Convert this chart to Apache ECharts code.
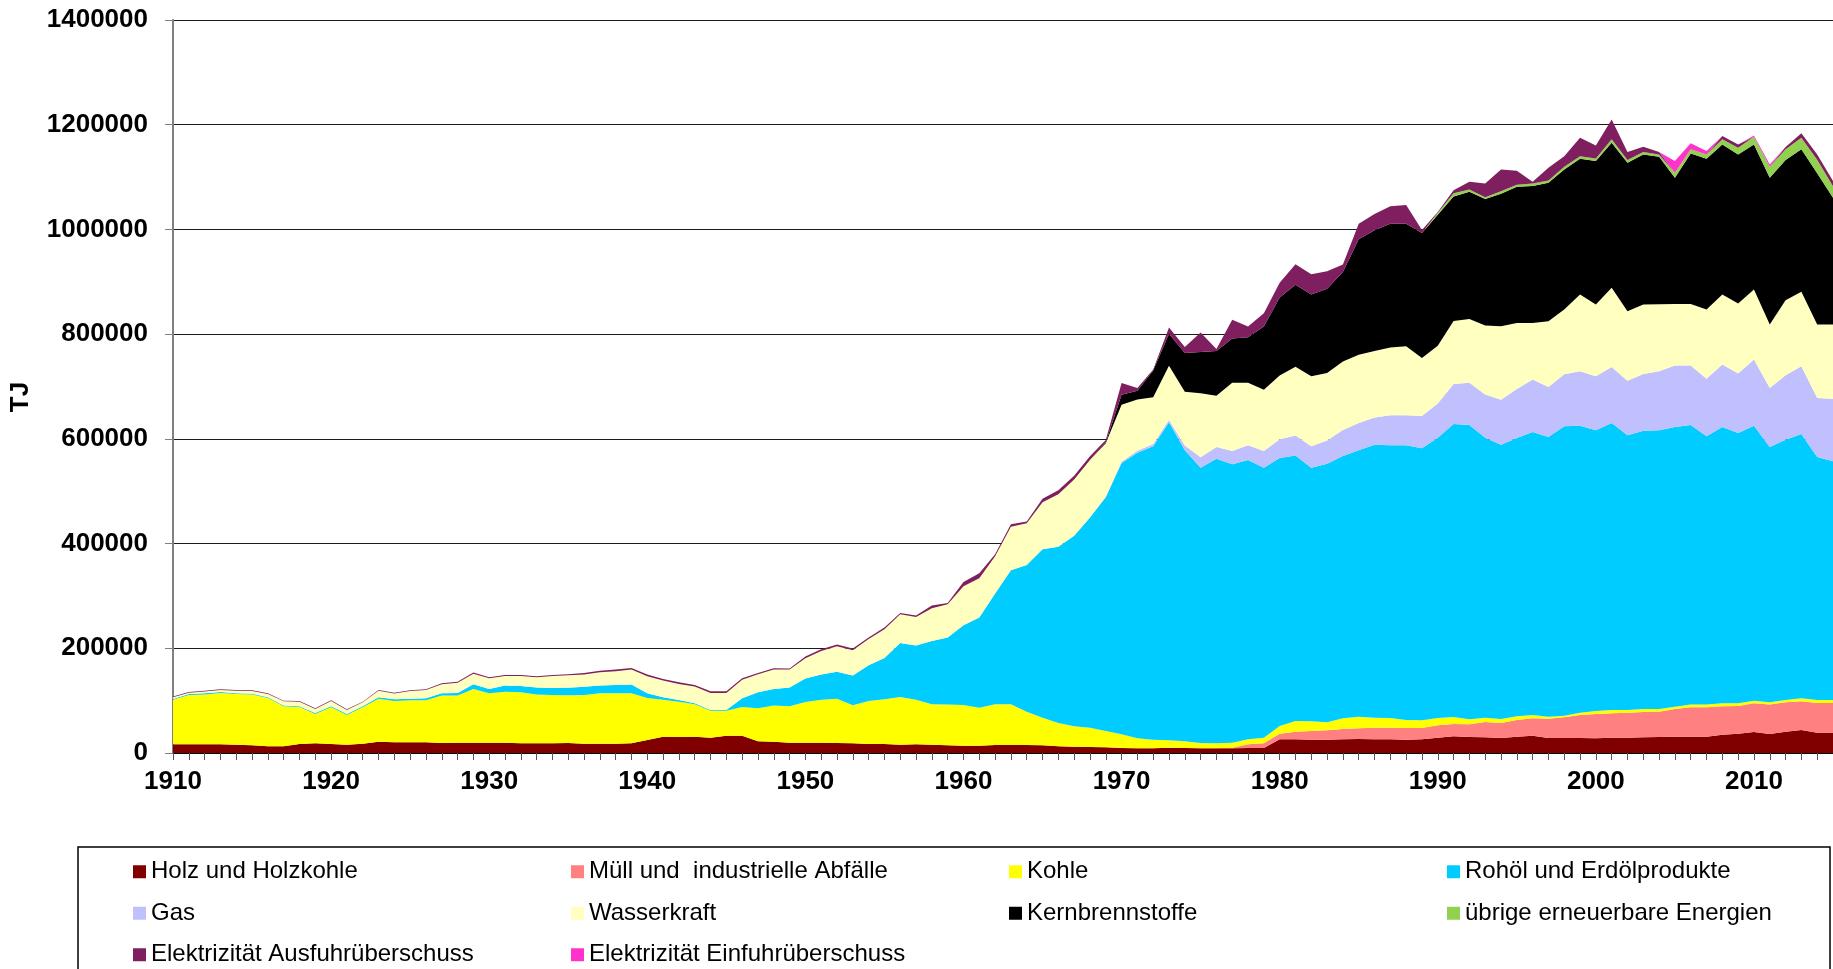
<!DOCTYPE html>
<html>
<head>
<meta charset="utf-8">
<script src="https://cdn.jsdelivr.net/npm/echarts@6/dist/echarts.min.js"></script>
<style>
  html, body { margin: 0; padding: 0; background: #fff; }
  #report { width: 1833px; height: 969px; }
</style>
</head>
<body>
<div id="report"></div>
<script>
// Jahre 1910 - 2015
var years = [];
for (var y = 1910; y <= 2015; y++) { years.push(String(y)); }

// Werte in TJ
var holz = [
  16600, 16600, 16600, 16600, 15900, 14700, 12700, 12700, 17200, 18500,
  17200, 15900, 17800, 21700, 20400, 20400, 20400, 19100, 19700, 19700,
  19700, 19700, 18500, 18500, 18500, 19100, 17800, 17800, 17800, 18500,
  24800, 31200, 30600, 31200, 29300, 33100, 33100, 22300, 21700, 19700,
  19700, 19700, 19100, 18500, 17200, 17200, 15900, 16600, 15900, 14700,
  14000, 14000, 15300, 15300, 15300, 14700, 12700, 12100, 11500, 10800,
  9600, 8900, 8900, 10200, 9600, 8900, 8900, 8900, 9600, 9600,
  26100, 26100, 25500, 25500, 26100, 26800, 26100, 26100, 25500, 26100,
  29300, 31900, 30600, 29900, 28700, 31200, 33100, 28700, 28700, 28700,
  28000, 29300, 29300, 29900, 30600, 31200, 31200, 31200, 35000, 36900,
  40100, 36300, 40800, 44000, 38900, 38900
];
var muell = [
  0, 0, 0, 0, 0, 0, 0, 0, 0, 0,
  0, 0, 0, 0, 0, 0, 0, 0, 0, 0,
  0, 0, 0, 0, 0, 0, 0, 0, 0, 0,
  0, 0, 0, 0, 0, 0, 0, 0, 0, 0,
  0, 0, 0, 0, 0, 0, 0, 0, 0, 0,
  0, 0, 0, 0, 0, 0, 0, 0, 0, 0,
  0, 0, 0, 0, 0, 0, 0, 1300, 7000, 8900,
  10800, 14700, 16500, 17800, 19800, 20300, 22300, 22300, 22300, 21700,
  23600, 23500, 24200, 29300, 28600, 31900, 33100, 36900, 39500, 43900,
  46500, 46500, 47800, 48500, 48400, 52900, 56100, 56100, 54200, 52900,
  54800, 56100, 56000, 54700, 56600, 56600
];
var kohle = [
  85300, 94200, 94900, 98100, 96800, 96800, 92400, 76500, 70700, 56000,
  70100, 56700, 69500, 82100, 79000, 80200, 80200, 90500, 89900, 102600,
  94300, 97500, 97400, 93000, 92300, 91100, 93000, 96200, 96200, 95500,
  80300, 70700, 67500, 61800, 51600, 47800, 54800, 63100, 68800, 69500,
  77800, 82200, 84700, 72600, 82200, 85400, 91100, 85300, 77100, 77700,
  77700, 72600, 77700, 77700, 63700, 52800, 44600, 38900, 36900, 31200,
  26100, 19100, 16600, 14000, 12700, 10200, 9600, 9500, 9500, 10800,
  14700, 20400, 18500, 15300, 20300, 22300, 19100, 18500, 15300, 14600,
  14000, 13400, 9500, 8300, 7700, 7000, 6400, 3800, 3100, 4500,
  5800, 6400, 5100, 5700, 5100, 4400, 5100, 5100, 5700, 5100,
  5100, 4400, 4500, 5800, 5800, 5800
];
var rohoel = [
  1300, 1900, 2500, 1900, 1500, 1500, 1500, 1500, 1500, 1900,
  1900, 1900, 1900, 2500, 3200, 3200, 3800, 4500, 5100, 8900,
  8300, 11500, 12100, 13400, 13400, 14600, 15900, 14700, 15900, 16600,
  8900, 4500, 3200, 1900, 1300, 1300, 16600, 30600, 31800, 35700,
  44600, 47900, 51600, 56700, 68100, 79000, 103200, 103200, 121100, 128000,
  152300, 172000, 211500, 256100, 280300, 321700, 336400, 364000, 401600, 446300,
  518200, 545700, 560300, 607500, 556100, 525800, 543500, 531900, 533700, 515600,
  511900, 506800, 484400, 493700, 501000, 509000, 521300, 521100, 524900, 519700,
  535300, 559400, 562400, 534700, 523900, 531500, 540500, 534100, 552700, 548100,
  536000, 548100, 524500, 531500, 532200, 534100, 534100, 512400, 527700, 516300,
  525200, 487600, 497100, 504800, 464000, 455700
];
var gas = [
  0, 0, 0, 0, 0, 0, 0, 0, 0, 0,
  0, 0, 0, 0, 0, 0, 0, 0, 0, 0,
  0, 0, 0, 0, 0, 0, 0, 0, 0, 0,
  0, 0, 0, 0, 0, 0, 0, 0, 0, 0,
  0, 0, 0, 0, 0, 0, 0, 0, 0, 0,
  0, 0, 0, 0, 0, 0, 0, 0, 0, 1000,
  2600, 3800, 4500, 4400, 8900, 20100, 22300, 25300, 28200, 32000,
  35700, 38600, 40900, 44600, 49800, 52000, 52000, 57300, 57300, 61700,
  65400, 76500, 80300, 82500, 86000, 93700, 100100, 95600, 99300, 103900,
  103200, 107100, 104500, 108400, 112800, 117300, 113400, 110200, 119200, 113400,
  126200, 112800, 123000, 129300, 112800, 119800
];
var wasser = [
  3200, 2500, 3500, 3800, 4900, 5500, 6100, 8000, 8700, 7700,
  10100, 7600, 7600, 12800, 11000, 14700, 16000, 17000, 19600, 20400,
  20300, 18300, 19000, 19600, 22800, 23500, 23200, 25600, 26400, 28800,
  32700, 32000, 30700, 32100, 32600, 32600, 35600, 34300, 37000, 34400,
  38900, 45100, 48400, 48400, 50400, 54700, 54800, 54800, 62500, 63900,
  74500, 75200, 71500, 82800, 79600, 89800, 100600, 107300, 109700, 102200,
  108500, 97700, 89200, 103300, 102600, 121900, 98100, 130100, 119000, 116700,
  121900, 130900, 133800, 128700, 130900, 130100, 127100, 129300, 131600, 110800,
  110000, 120500, 121900, 131600, 140200, 126200, 108300, 125600, 123700, 146500,
  137000, 151000, 132600, 132500, 128100, 117900, 117900, 132000, 133800, 133800,
  133800, 121100, 143400, 142200, 140200, 141500
];
var kern = [
  0, 0, 0, 0, 0, 0, 0, 0, 0, 0,
  0, 0, 0, 0, 0, 0, 0, 0, 0, 0,
  0, 0, 0, 0, 0, 0, 0, 0, 0, 0,
  0, 0, 0, 0, 0, 0, 0, 0, 0, 0,
  0, 0, 0, 0, 0, 0, 0, 0, 0, 0,
  0, 0, 0, 0, 0, 0, 0, 0, 0, 2000,
  19100, 16800, 51000, 61200, 74300, 78800, 85500, 84700, 87000, 121200,
  148700, 156800, 156100, 161300, 170900, 220800, 230500, 236400, 234100, 238600,
  250500, 237900, 243100, 241600, 252900, 260000, 261300, 264300, 267600, 259400,
  274100, 277200, 283600, 286800, 281700, 240900, 287400, 288000, 286800, 284900,
  277200, 280400, 267700, 272100, 288800, 242200
];
var uebrige = [
  0, 0, 0, 0, 0, 0, 0, 0, 0, 0,
  0, 0, 0, 0, 0, 0, 0, 0, 0, 0,
  0, 0, 0, 0, 0, 0, 0, 0, 0, 0,
  0, 0, 0, 0, 0, 0, 0, 0, 0, 0,
  0, 0, 0, 0, 0, 0, 0, 0, 0, 0,
  0, 0, 0, 0, 0, 0, 0, 0, 0, 0,
  0, 0, 0, 0, 0, 0, 0, 0, 0, 0,
  0, 0, 0, 0, 0, 0, 0, 0, 0, 0,
  3700, 5900, 4400, 3700, 5000, 3800, 5100, 4600, 5100, 5000,
  5100, 6400, 5100, 4500, 4400, 9600, 7700, 8300, 9600, 12800,
  14700, 21000, 20400, 22300, 26000, 22000
];
var ausfuhr = [
  1300, 1300, 1300, 1300, 1300, 1300, 1300, 1300, 1300, 1300,
  1300, 1300, 1300, 1300, 1300, 1300, 1300, 2000, 2000, 2000,
  2000, 2000, 2000, 2000, 2000, 2000, 3000, 3000, 3000, 3000,
  3000, 3000, 3000, 3000, 3000, 3000, 2600, 2600, 2600, 1900,
  3200, 3200, 3200, 3200, 2500, 3200, 2500, 2500, 4900, 2300,
  8300, 9500, 3700, 5100, 3200, 6400, 7700, 7000, 7000, 4400,
  22800, 5000, 1900, 12000, 11200, 37200, 3700, 35700, 20800, 25200,
  28200, 39400, 38700, 33400, 14200, 29700, 31200, 33500, 35700, 5900,
  1500, 6000, 14900, 26000, 41600, 26700, 3100, 24200, 20300, 35000,
  24800, 38000, 15300, 10200, 4500, 0, 0, 0, 6400, 6300,
  0, 0, 4400, 8300, 10000, 10000
];
var einfuhr = [
  0, 0, 0, 0, 0, 0, 0, 0, 0, 0,
  0, 0, 0, 0, 0, 0, 0, 0, 0, 0,
  0, 0, 0, 0, 0, 0, 0, 0, 0, 0,
  0, 0, 0, 0, 0, 0, 0, 0, 0, 0,
  0, 0, 0, 0, 0, 0, 0, 0, 0, 0,
  0, 0, 0, 0, 0, 0, 0, 0, 0, 0,
  0, 0, 0, 0, 0, 0, 0, 0, 0, 0,
  0, 0, 0, 0, 0, 0, 0, 0, 0, 0,
  0, 0, 0, 0, 0, 0, 0, 0, 0, 0,
  0, 0, 0, 0, 0, 22300, 11500, 6400, 0, 0,
  2500, 4500, 0, 0, 0, 0
];

var yTicks = [0, 200000, 400000, 600000, 800000, 1000000, 1200000, 1400000];

var FONT = '"Liberation Sans", Arial, sans-serif';

var reihen = [
  { name: 'Holz und Holzkohle', data: holz, color: '#800000' },
  { name: 'Müll und  industrielle Abfälle', data: muell, color: '#FF8080' },
  { name: 'Kohle', data: kohle, color: '#FFFF00' },
  { name: 'Rohöl und Erdölprodukte', data: rohoel, color: '#00CCFF' },
  { name: 'Gas', data: gas, color: '#C0C0FF' },
  { name: 'Wasserkraft', data: wasser, color: '#FFFFC0' },
  { name: 'Kernbrennstoffe', data: kern, color: '#000000' },
  { name: 'übrige erneuerbare Energien', data: uebrige, color: '#92D050' },
  { name: 'Elektrizität Ausfuhrüberschuss', data: ausfuhr, color: '#7F1F5F' },
  { name: 'Elektrizität Einfuhrüberschuss', data: einfuhr, color: '#FF33CC' }
];

var myChart = echarts.init(document.getElementById('report'));

var option = {
  animation: false,
  backgroundColor: '#fff',
  grid: { left: 173, right: 0, top: 20, height: 733, containLabel: false },
  xAxis: {
    type: 'category',
    data: years,
    boundaryGap: false,
    axisLine: { lineStyle: { color: '#000', width: 1 } },
    axisTick: { interval: 0, length: 7, lineStyle: { color: '#555' } },
    axisLabel: {
      interval: 9,
      margin: 16,
      color: '#000',
      fontFamily: FONT,
      fontSize: 26,
      fontWeight: 'bold'
    },
    splitLine: { show: false }
  },
  yAxis: {
    type: 'value',
    min: yTicks[0],
    max: yTicks[yTicks.length - 1],
    interval: yTicks[1] - yTicks[0],
    axisLine: { show: true, lineStyle: { color: '#808080', width: 2 } },
    axisTick: { show: true, length: 8, lineStyle: { color: '#808080' } },
    axisLabel: {
      margin: 25,
      color: '#000',
      fontFamily: FONT,
      fontSize: 26,
      fontWeight: 'bold',
      formatter: function (v) { return String(v); }
    },
    splitLine: { lineStyle: { color: '#1a1a1a', width: 1 } }
  },
  legend: {
    left: 128,
    top: 846,
    width: 1760,
    itemGap: 0,
    itemWidth: 13,
    itemHeight: 13,
    icon: 'rect',
    selectedMode: false,
    textStyle: {
      color: '#000',
      fontFamily: FONT,
      fontSize: 24,
      width: 420,
      height: 41.5,
      lineHeight: 41.5,
      overflow: 'none'
    },
    data: reihen.map(function (r) { return r.name; })
  },
  graphic: [
    {
      type: 'rect',
      shape: { x: 78, y: 847, width: 1752, height: 140 },
      style: { fill: 'none', stroke: '#000', lineWidth: 1.5 },
      silent: true
    },
    {
      type: 'text',
      x: 21,
      y: 397,
      rotation: Math.PI / 2,
      style: {
        text: 'TJ',
        fill: '#000',
        font: 'bold 26px ' + FONT,
        textAlign: 'center',
        textVerticalAlign: 'middle'
      }
    }
  ],
  series: reihen.map(function (r) {
    return {
      name: r.name,
      type: 'line',
      stack: 'gesamt',
      data: r.data,
      color: r.color,
      symbol: 'none',
      showSymbol: false,
      lineStyle: { width: 0 },
      itemStyle: { color: r.color },
      areaStyle: { color: r.color, opacity: 1 }
    };
  })
};

myChart.setOption(option);
</script>
</body>
</html>
